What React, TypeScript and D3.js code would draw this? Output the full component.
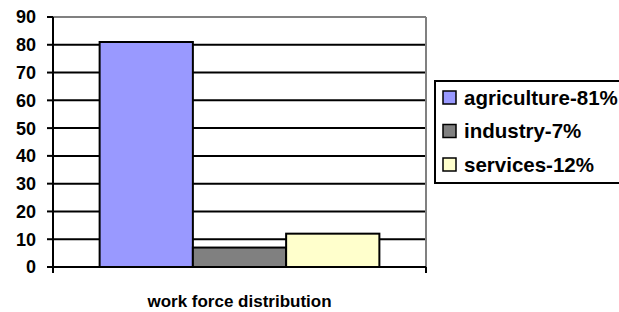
import React from 'react';
import * as d3 from 'd3';

// chart data
const categories = ['work force distribution'];
const seriesNames = ['agriculture-81%', 'industry-7%', 'services-12%'];
const seriesValues = [81, 7, 12];
const seriesColors = ['#9999FF', '#808080', '#FFFFCC'];
const yTicks = [0, 10, 20, 30, 40, 50, 60, 70, 80, 90];

const W = 619;
const H = 312;
const margin = { top: 17, right: 193, bottom: 45, left: 53 };
const textStyle: React.CSSProperties = { fontFamily: '"Liberation Sans", Arial, sans-serif', fontWeight: 700 };

export default function App() {
	const plotW = W - margin.left - margin.right;
	const plotH = H - margin.top - margin.bottom;

	const x = d3.scaleBand().domain(categories).range([0, plotW]);
	const inner = d3.scaleBand()
		.domain(seriesNames)
		.range([0, x.bandwidth()])
		.paddingOuter(0.5);
	const y = d3.scaleLinear().domain([0, 90]).range([plotH, 0]);

	return (
		<svg
			width={W}
			height={H}
			style={{ position: 'absolute', left: 0, top: 0, background: '#fff' }}
		>
			<g transform={`translate(${margin.left},${margin.top})`}>
				{/* gridlines */}
				{yTicks.filter((t) => t > 0 && t < 90).map((t) => (
					<line key={t} x1={0} x2={plotW} y1={y(t)} y2={y(t)} stroke="#000" strokeWidth={2} />
				))}
				{/* grey frame top/right */}
				<line x1={0} x2={plotW} y1={y(90)} y2={y(90)} stroke="#808080" strokeWidth={2} />
				<line x1={plotW} x2={plotW} y1={y(90)} y2={plotH} stroke="#808080" strokeWidth={2} />

				{/* bars */}
				{seriesNames.map((s, i) => (
					<rect
						key={s}
						x={(x(categories[0]) ?? 0) + (inner(s) ?? 0)}
						y={y(seriesValues[i])}
						width={inner.bandwidth()}
						height={plotH - y(seriesValues[i])}
						fill={seriesColors[i]}
						stroke="#000"
						strokeWidth={2}
					/>
				))}

				{/* y axis */}
				<line x1={0} x2={0} y1={y(90)} y2={plotH} stroke="#000" strokeWidth={2} />
				{yTicks.map((t) => (
					<g key={t} transform={`translate(0,${y(t)})`}>
						<line x1={-6} x2={0} stroke="#000" strokeWidth={2} />
						<text x={-17} dy="0.36em" textAnchor="end" fontSize={18} style={textStyle}>{t}</text>
					</g>
				))}

				{/* x axis */}
				<line x1={0} x2={plotW} y1={plotH} y2={plotH} stroke="#000" strokeWidth={2} />
				<line x1={0} x2={0} y1={plotH} y2={plotH + 6} stroke="#000" strokeWidth={2} />
				<line x1={plotW} x2={plotW} y1={plotH} y2={plotH + 6} stroke="#000" strokeWidth={2} />
				<text x={plotW / 2} y={plotH + 40} textAnchor="middle" fontSize={17} style={textStyle}>{categories[0]}</text>
			</g>

			{/* legend */}
			<g transform="translate(435,81)">
				<rect x={0} y={0} width={190} height={102} fill="#fff" stroke="#000" strokeWidth={2} />
				{seriesNames.map((s, i) => (
					<g key={s} transform={`translate(8,${10 + i * 33.5})`}>
						<rect x={0} y={0} width={13} height={13} fill={seriesColors[i]} stroke="#000" strokeWidth={1.5} />
						<text x={21} y={13.5} fontSize={20.5} style={textStyle}>{s}</text>
					</g>
				))}
			</g>
		</svg>
	);
}
